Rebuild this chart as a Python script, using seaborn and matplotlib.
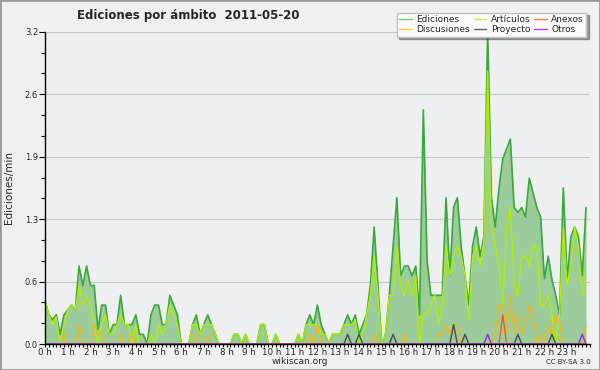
import numpy as np
import pandas as pd
import seaborn as sns
import matplotlib.pyplot as plt
from matplotlib.lines import Line2D
from matplotlib.patches import Rectangle
from matplotlib.ticker import MultipleLocator

# --- Data (edits per minute, 10-minute bins, 2011-05-20) ---
ediciones = [
    0.45, 0.3, 0.25, 0.3, 0.1, 0.3, 0.35, 0.4, 0.35, 0.8, 0.6, 0.8, 0.6, 0.6, 0.15, 0.4, 0.4, 0.1,
    0.2, 0.2, 0.5, 0.2, 0.2, 0.2, 0.3, 0.1, 0.1, 0.0, 0.3, 0.4, 0.4, 0.2, 0.2, 0.5, 0.4, 0.3,
    0.0, 0.0, 0.0, 0.2, 0.3, 0.1, 0.2, 0.3, 0.2, 0.1, 0.0, 0.0, 0.0, 0.0, 0.1, 0.1, 0.0, 0.1,
    0.0, 0.0, 0.0, 0.2, 0.2, 0.0, 0.0, 0.1, 0.0, 0.0, 0.0, 0.0, 0.0, 0.1, 0.0, 0.2, 0.3, 0.2,
    0.4, 0.2, 0.1, 0.0, 0.1, 0.1, 0.1, 0.2, 0.3, 0.2, 0.3, 0.1, 0.2, 0.3, 0.6, 1.2, 0.6, 0.0,
    0.1, 0.5, 1.0, 1.5, 0.7, 0.8, 0.8, 0.7, 0.8, 0.3, 2.4, 0.85, 0.5, 0.5, 0.5, 0.5, 1.5, 0.7,
    1.4, 1.5, 1.0, 0.7, 0.4, 1.0, 1.2, 0.9, 1.1, 3.2, 1.5, 1.2, 1.6, 1.9, 2.0, 2.1, 1.4, 1.35,
    1.4, 1.3, 1.7, 1.55, 1.4, 1.3, 0.67, 0.9, 0.66, 0.5, 0.3, 1.6, 0.66, 1.1, 1.2, 1.1, 0.7, 1.4,
]
articulos = [
    0.45, 0.3, 0.2, 0.28, 0.0, 0.2, 0.35, 0.4, 0.35, 0.6, 0.4, 0.5, 0.4, 0.2, 0.0, 0.2, 0.3, 0.1,
    0.1, 0.2, 0.3, 0.2, 0.2, 0.0, 0.2, 0.0, 0.0, 0.0, 0.1, 0.0, 0.2, 0.1, 0.2, 0.4, 0.3, 0.2,
    0.0, 0.0, 0.0, 0.2, 0.2, 0.1, 0.2, 0.2, 0.2, 0.1, 0.0, 0.0, 0.0, 0.0, 0.1, 0.1, 0.0, 0.1,
    0.0, 0.0, 0.0, 0.2, 0.2, 0.0, 0.0, 0.1, 0.0, 0.0, 0.0, 0.0, 0.0, 0.1, 0.0, 0.2, 0.2, 0.2,
    0.2, 0.1, 0.1, 0.0, 0.1, 0.1, 0.1, 0.2, 0.2, 0.2, 0.25, 0.0, 0.1, 0.3, 0.5, 0.9, 0.5, 0.0,
    0.1, 0.5, 0.5, 1.0, 0.6, 0.5, 0.65, 0.5, 0.7, 0.0, 0.3, 0.3, 0.4, 0.5, 0.2, 0.4, 1.0, 0.7,
    0.9, 1.0, 0.9, 0.7, 0.25, 0.9, 1.0, 0.8, 1.05, 2.8, 1.2, 1.0, 0.8, 0.4, 1.2, 1.4, 0.6, 0.5,
    0.9, 0.9, 0.8, 1.0, 1.0, 0.4, 0.4, 0.5, 0.3, 0.0, 0.3, 1.2, 0.6, 0.8, 1.2, 1.0, 0.5, 0.7,
]
discusiones_pts = {5: 0.1, 9: 0.2, 13: 0.2, 14: 0.1, 15: 0.1, 20: 0.1, 23: 0.1, 40: 0.1, 43: 0.1,
                   70: 0.1, 72: 0.2, 87: 0.1, 95: 0.1, 104: 0.1, 105: 0.1, 106: 0.2, 107: 0.1,
                   108: 0.2, 109: 0.2, 117: 0.1, 119: 0.1, 120: 0.4, 121: 0.4, 122: 0.1, 123: 0.5,
                   124: 0.1, 125: 0.3, 126: 0.1, 127: 0.2, 128: 0.4, 129: 0.3, 131: 0.1, 133: 0.2,
                   134: 0.1, 135: 0.3, 136: 0.2, 143: 0.2}
proyecto_pts = {80: 0.1, 83: 0.1, 92: 0.1, 108: 0.2, 111: 0.1, 125: 0.1, 134: 0.1}
anexos_pts = {121: 0.3}
otros_pts = {117: 0.1, 142: 0.1}

hour_labels = [f"{h} h" for h in range(24)]
y_ticks = [0.0, 0.64, 1.28, 1.92, 2.56, 3.2]
y_labels = ["0.0", "0.6", "1.3", "1.9", "2.6", "3.2"]

n = len(ediciones)
df = pd.DataFrame({"hora": np.arange(n) / 6, "Ediciones": ediciones, "Artículos": articulos})
for name, pts in [("Discusiones", discusiones_pts), ("Proyecto", proyecto_pts),
                  ("Anexos", anexos_pts), ("Otros", otros_pts)]:
    df[name] = [pts.get(i, 0.0) for i in range(n)]

colors = {"Ediciones": "#3aa83a", "Artículos": "#b0ee00", "Discusiones": "#f0b818",
          "Proyecto": "#4a4a4a", "Anexos": "#e8602c", "Otros": "#8030f0"}
legend_colors = {"Ediciones": "#7fce7f", "Artículos": "#c8f050", "Discusiones": "#f5d040",
                 "Proyecto": "#606060", "Anexos": "#f08048", "Otros": "#9848f0"}

sns.set_style("ticks")
plt.rcParams['font.family'] = ['DejaVu Sans']

fig = plt.figure(figsize=(6, 3.7), dpi=100, facecolor="#f0f0f0")
ax = fig.add_axes([0.075, 0.070, 0.908, 0.844])
ax.set_facecolor("#eeeff0")

ax.fill_between(df["hora"], df["Ediciones"], color="#9ccb9c", lw=0, zorder=1)
for name in ["Ediciones", "Artículos", "Discusiones", "Proyecto", "Anexos", "Otros"]:
    sns.lineplot(data=df, x="hora", y=name, color=colors[name], ax=ax, estimator=None,
                 lw=1.2 if name == "Ediciones" else 1.0, zorder=2)

ax.set_xlim(0, 24)
ax.set_ylim(0, 3.2)
ax.set_xticks(range(24))
ax.set_xticklabels(hour_labels, fontsize=6.3)
ax.xaxis.set_minor_locator(MultipleLocator(1 / 6))
ax.set_yticks(y_ticks)
ax.set_yticklabels(y_labels, fontsize=6)
ax.yaxis.set_minor_locator(MultipleLocator(0.64 / 3))
ax.tick_params(axis="x", which="both", length=2.5, width=0.8, pad=0, color="black")
ax.tick_params(axis="y", which="major", length=4, width=0.8, pad=1, color="black")
ax.tick_params(axis="y", which="minor", length=3, width=0.8, color="black")
ax.yaxis.grid(True, color="#c8c8c8", lw=0.8)
ax.set_axisbelow(True)
for s in ["top", "right"]:
    ax.spines[s].set_visible(False)
for s in ["left", "bottom"]:
    ax.spines[s].set_color("black")
    ax.spines[s].set_linewidth(1.0)
    ax.spines[s].set_zorder(3)
ax.set_xlabel("")
ax.set_ylabel("Ediciones/min", fontsize=7.5, labelpad=8)
if ax.get_legend():
    ax.get_legend().remove()

handles = []
order = ["Ediciones", "Discusiones", "Artículos", "Proyecto", "Anexos", "Otros"]
for name in order:
    handles.append(Line2D([], [], color=legend_colors[name], lw=1.0))
fig.legend(handles, order, ncol=3, loc="upper right", bbox_to_anchor=(0.985, 0.978),
           fontsize=6.5, frameon=True, shadow=True, fancybox=False, edgecolor="#c0c0c0",
           facecolor="#fbfbfb", framealpha=1, handlelength=1.4, columnspacing=0.4,
           labelspacing=0.05, borderpad=0.3, handletextpad=0.5)

fig.text(188 / 600, 1 - 15 / 370, "Ediciones por ámbito  2011-05-20", fontsize=8.5,
         fontweight="bold", ha="center", va="center")
fig.text(0.5, 1 - 362 / 370, "wikiscan.org", fontsize=6.5, ha="center", va="center")
fig.text(0.985, 1 - 362 / 370, "CC BY-SA 3.0", fontsize=5, ha="right", va="center")
fig.patches.append(Rectangle((0, 0), 1, 1, transform=fig.transFigure, fill=False,
                             edgecolor="#999999", lw=2))

plt.savefig("out.png", dpi=100, facecolor=fig.get_facecolor())
